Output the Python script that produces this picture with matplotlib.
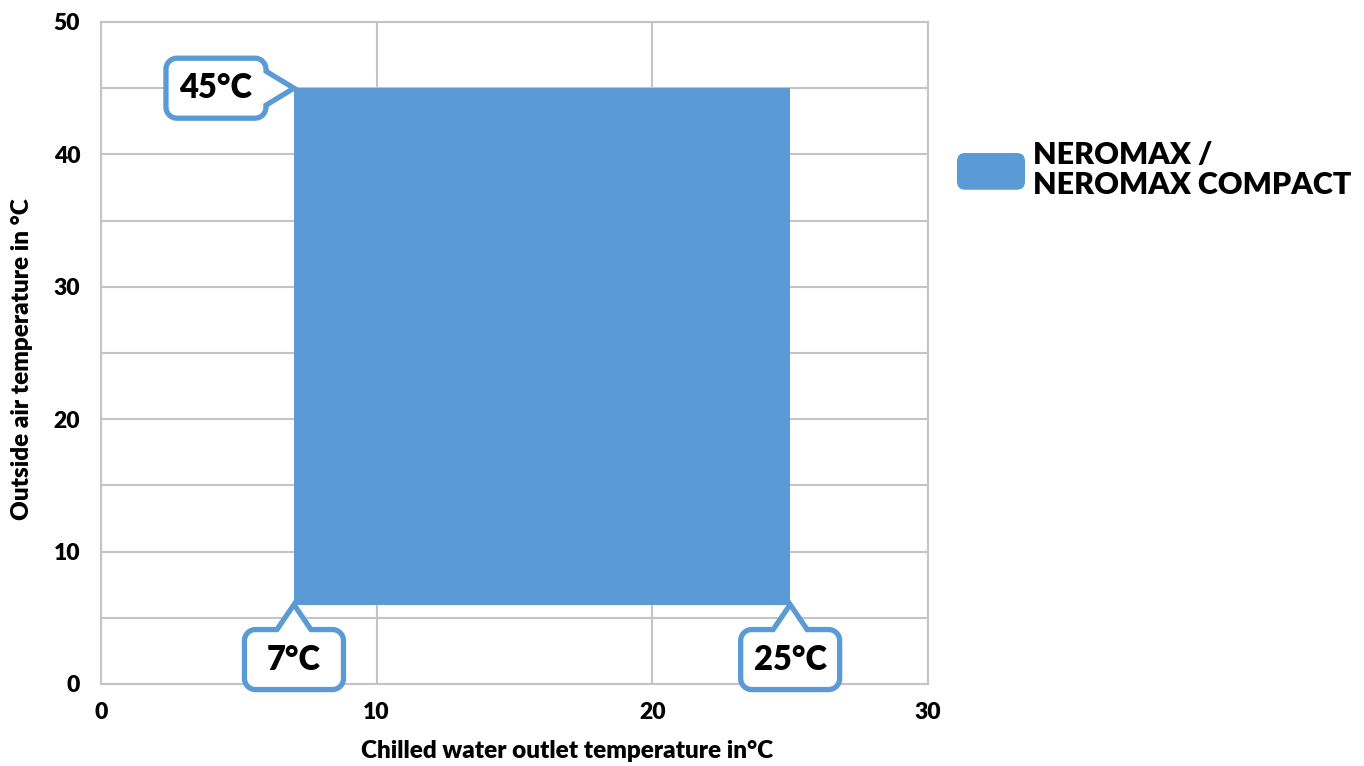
import numpy as np
import matplotlib
matplotlib.use("Agg")
import matplotlib.pyplot as plt
from matplotlib.path import Path
from matplotlib.patches import PathPatch, FancyBboxPatch, Patch
from matplotlib.transforms import Affine2D, ScaledTranslation
from matplotlib.legend_handler import HandlerPatch

# operating envelope
water_range = [7, 25]      # chilled water outlet temperature, degC
air_range = [6, 45]        # outside air temperature, degC
series_name = "NEROMAX /\nNEROMAX COMPACT"
x_ticks = [0, 10, 20, 30]
y_ticks = [0, 10, 20, 30, 40, 50]
callout_labels = ["45°C", "7°C", "25°C"]

BLUE = "#5B9BD5"
GRID = "#C4C4C4"
W = "heavy"

plt.rcParams["font.family"] = ["Lato", "DejaVu Sans"]
plt.rcParams["font.weight"] = W

fig = plt.figure(figsize=(13.64, 7.66), dpi=100)
ax = fig.add_axes([101 / 1364, 1 - 684 / 766, 827 / 1364, 662 / 766])

ax.fill_between(water_range, air_range[0], air_range[1], color=BLUE, lw=0, zorder=2)

ax.set_xlim(0, 30)
ax.set_ylim(0, 50)
ax.set_xticks(x_ticks)
ax.set_yticks(y_ticks)
ax.set_yticks(np.arange(0, 51, 5), minor=True)
ax.grid(True, which="major", axis="x", color=GRID, lw=1.5, zorder=0)
ax.grid(True, which="both", axis="y", color=GRID, lw=1.5, zorder=0)
ax.tick_params(which="both", length=0)
ax.tick_params(axis="y", pad=15, labelsize=16.5)
ax.tick_params(axis="x", pad=13, labelsize=16.5)
for lab in ax.get_xticklabels() + ax.get_yticklabels():
    lab.set_fontweight(W)
for s in ax.spines.values():
    s.set_color(GRID)
    s.set_linewidth(1.5)

ax.set_xlabel("Chilled water outlet temperature in°C", fontsize=17.5, fontweight=W)
ax.xaxis.set_label_coords((567 - 101) / 827, -0.085)
ax.set_ylabel("Outside air temperature in °C", fontsize=17.5, fontweight=W)
ax.yaxis.set_label_coords(-0.082, 0.49)


def callout_outline(w, h, r, half, gap, n=12):
    # tip at origin, pointer going up out of the top side of the box
    top, bot, L, R = -gap, -gap - h, -w / 2, w / 2
    pts = [(0, 0), (half, top)]
    def arc(cx, cy, a0, a1):
        for a in np.linspace(np.radians(a0), np.radians(a1), n):
            pts.append((cx + r * np.cos(a), cy + r * np.sin(a)))
    arc(R - r, top - r, 90, 0)
    arc(R - r, bot + r, 0, -90)
    arc(L + r, bot + r, -90, -180)
    arc(L + r, top - r, 180, 90)
    pts.append((-half, top))
    pts.append((0, 0))
    return np.array(pts)


def callout(x, y, text, side):
    if side == "right":
        w, h, gap = 60, 100, 28
    else:
        w, h, gap = 99, 60, 25
    pts = callout_outline(w, h, 11, 17, gap)
    center = np.array([0, -gap - h / 2])
    if side == "right":
        pts = np.column_stack([pts[:, 1], -pts[:, 0]])
        center = np.array([center[1], -center[0]])
    trans = ScaledTranslation(x, y, ax.transData)
    patch = PathPatch(Path(pts, closed=True), transform=Affine2D() + trans,
                      facecolor="white", edgecolor=BLUE, lw=3.8,
                      joinstyle="miter", zorder=5, clip_on=False)
    ax.add_patch(patch)
    ax.annotate(text, xy=(x, y), xytext=tuple(center), textcoords="offset pixels",
                ha="center", va="center", fontsize=23.5, fontweight=W,
                color="black", zorder=6, annotation_clip=False)


callout(water_range[0], air_range[1], callout_labels[0], "right")
callout(water_range[0], air_range[0], callout_labels[1], "top")
callout(water_range[1], air_range[0], callout_labels[2], "top")


class RoundHandler(HandlerPatch):
    def create_artists(self, legend, orig_handle, xdescent, ydescent,
                       width, height, fontsize, trans):
        p = FancyBboxPatch((-xdescent, -ydescent), width, height,
                           boxstyle="round,pad=0,rounding_size=%f" % (height * 0.22),
                           facecolor=BLUE, edgecolor="none", transform=trans)
        return [p]


fs = 22
px = fs * 100 / 72
handle = Patch(color=BLUE, label=series_name)
leg = fig.legend(handles=[handle], loc="center left",
                 bbox_to_anchor=(957 / 1364, 1 - 170 / 766),
                 frameon=False, borderpad=0, borderaxespad=0,
                 handlelength=68 / px, handleheight=45 / px,
                 handletextpad=8 / px,
                 prop={"size": fs, "weight": W},
                 handler_map={Patch: RoundHandler()})
for t in leg.get_texts():
    t.set_linespacing(1.08)

fig.savefig("out.png", dpi=100)
